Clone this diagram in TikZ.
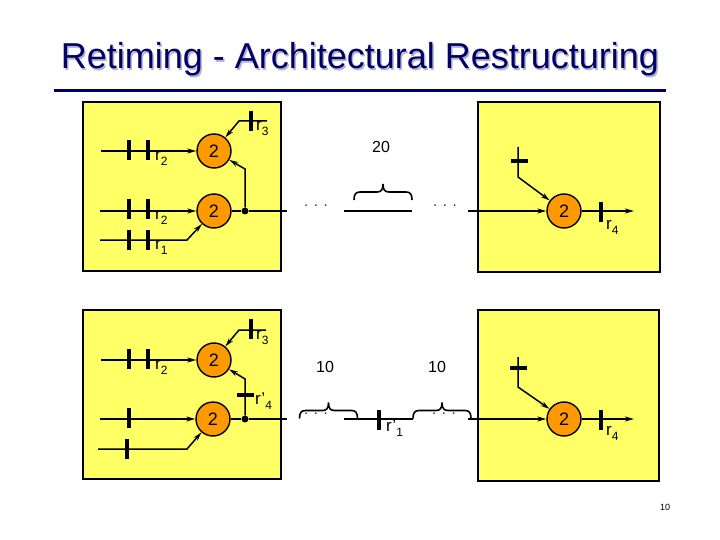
\documentclass[tikz,border=0pt]{standalone}
\usepackage{fontspec}
\setmainfont{Liberation Sans}
\usepackage{tikz}
\usetikzlibrary{arrows.meta,positioning}
\definecolor{navy}{HTML}{000066}
\definecolor{padyellow}{HTML}{FFFF66}
\definecolor{gateorange}{HTML}{FF9900}
\newcommand{\lowidx}[1]{\raisebox{-5pt}{\fontsize{12}{13}\selectfont #1}}

\begin{document}
\begin{tikzpicture}[
  x=1pt, y=-1pt,
  pad/.style={rectangle, draw=black, line width=1.8pt, fill=padyellow, anchor=north west, inner sep=0pt},
  gate/.style={circle, draw=black, line width=1.4pt, fill=gateorange, minimum size=34pt, inner sep=0pt, font=\fontsize{18}{20}\selectfont},
  vlatch/.style={rectangle, fill=black, minimum width=4pt, minimum height=20pt, inner sep=0pt},
  hlatch/.style={rectangle, fill=black, minimum width=17pt, minimum height=4pt, inner sep=0pt},
  junction/.style={circle, fill=black, minimum size=7pt, inner sep=0pt},
  reg/.style={anchor=west, inner sep=0pt, font=\fontsize{17}{18}\selectfont},
  weight/.style={inner sep=0pt, font=\fontsize{16}{18}\selectfont},
  gap/.style={inner sep=0pt, text=black!80, font=\fontsize{15}{16}\selectfont},
  wire/.style={line width=1.5pt},
  arr/.style={wire, -{Stealth[length=9pt,width=5pt]}},
  curly/.pic={\draw[line width=1.6pt] (-29,8) .. controls (-29,2) and (-27,0) .. (-23,0) -- (-6,0)
    .. controls (-2,0) and (0,-2) .. (0,-8) .. controls (0,-2) and (2,0) .. (6,0) -- (23,0)
    .. controls (27,0) and (29,2) .. (29,8);}
]
\useasboundingbox (0,0) rectangle (720,540);

% Title
\node[text=navy!30!white, inner sep=0pt, font=\fontsize{36}{38}\selectfont] (titleshade) at (361.5,61) {Retiming - Architectural Restructuring};
\node[text=navy, inner sep=0pt, font=\fontsize{36}{38}\selectfont] (title) at (360,59.5) {Retiming - Architectural Restructuring};
\coordinate (ruleL) at (54,90.5);
\coordinate (ruleR) at (666,90.5);
\draw[navy, line width=2.4pt] (ruleL) -- (ruleR);

% Yellow boxes
\node[pad, minimum width=198pt, minimum height=169pt] (padA) at (82,101) {};
\node[pad, minimum width=182pt, minimum height=170pt] (padB) at (477,101) {};
\node[pad, minimum width=198pt, minimum height=169pt] (padC) at (82,309) {};
\node[pad, minimum width=181pt, minimum height=171pt] (padD) at (477,309) {};

% Gates
\node[gate] (gA1) at (214,151) {2};
\node[gate] (gA2) at (214,211) {2};
\node[gate] (gB) at (564,211) {2};
\node[gate] (gC1) at (214,360) {2};
\node[gate] (gC2) at (213,419) {2};
\node[gate] (gD) at (564,419) {2};

% Top left wiring
\coordinate (inA1) at (101,151);
\coordinate (inA2) at (100,211);
\coordinate (inA3) at (100,240);
\coordinate (bendA3) at (187,240);
\coordinate (inA4) at (267,121);
\coordinate (bendA4) at (239,121);
\coordinate (bendA5) at (245,169);
\coordinate (cutA) at (287,211);
\node[junction] (jA) at (245,211) {};
\draw[arr] (inA1) -- (gA1);
\draw[arr] (inA2) -- (gA2);
\draw[arr] (inA3) -- (bendA3) -- (gA2);
\draw[arr] (inA4) -- (bendA4) -- (gA1);
\draw[arr] (jA) -- (bendA5) -- (gA1);
\draw[wire] (gA2) -- (jA) -- (cutA);
\node[vlatch] (lA1) at (129,150) {};
\node[vlatch] (lA2) at (148,150) {};
\node[vlatch] (lA3) at (129,209) {};
\node[vlatch] (lA4) at (148,209) {};
\node[vlatch] (lA5) at (129,240) {};
\node[vlatch] (lA6) at (148,240) {};
\node[vlatch] (lA7) at (251,121) {};
\node[reg] (rA1) at (155,158) {r\lowidx{2}};
\node[reg] (rA2) at (155,217) {r\lowidx{2}};
\node[reg] (rA3) at (155,247) {r\lowidx{1}};
\node[reg] (rA4) at (256,128) {r\lowidx{3}};

% Top middle
\node[gap] (dotsB1) at (316,206) {. . .};
\node[gap] (dotsB2) at (445,206) {. . .};
\coordinate (midB1) at (344,211);
\coordinate (midB2) at (412,211);
\draw[wire] (midB1) -- (midB2);
\pic at (383,192) {curly};
\node[weight] (wB) at (381,147) {20};

% Top right wiring
\coordinate (inB1) at (468,211);
\coordinate (inB2) at (518,147);
\coordinate (bendB2) at (518,177);
\coordinate (outB) at (634,211);
\draw[arr] (inB1) -- (gB);
\draw[arr] (inB2) -- (bendB2) -- (gB);
\draw[arr] (gB) -- (outB);
\node[hlatch] (lB1) at (519,161) {};
\node[vlatch] (lB2) at (601,212) {};
\node[reg] (rB) at (606,227) {r\lowidx{4}};

% Bottom left wiring
\coordinate (inC1) at (101,360);
\coordinate (inC2) at (100,419);
\coordinate (inC3) at (98,449);
\coordinate (bendC3) at (187,449);
\coordinate (inC4) at (266,330);
\coordinate (bendC4) at (239,330);
\coordinate (bendC5) at (245,379);
\coordinate (cutC) at (287,419);
\node[junction] (jC) at (245,419) {};
\draw[arr] (inC1) -- (gC1);
\draw[arr] (inC2) -- (gC2);
\draw[arr] (inC3) -- (bendC3) -- (gC2);
\draw[arr] (inC4) -- (bendC4) -- (gC1);
\draw[arr] (jC) -- (bendC5) -- (gC1);
\draw[wire] (gC2) -- (jC) -- (cutC);
\node[vlatch] (lC1) at (129,359) {};
\node[vlatch] (lC2) at (148,359) {};
\node[vlatch] (lC3) at (129,418) {};
\node[vlatch] (lC4) at (127,449) {};
\node[vlatch] (lC5) at (251,329) {};
\node[hlatch] (lC6) at (245,395) {};
\node[reg] (rC1) at (155,367) {r\lowidx{2}};
\node[reg] (rC2) at (256,337) {r\lowidx{3}};
\node[reg] (rC3) at (255,401) {r'\lowidx{4}};

% Bottom middle
\node[gap] (dotsD1) at (316,414) {. . .};
\node[gap] (dotsD2) at (444,414) {. . .};
\coordinate (midD1) at (344,419);
\coordinate (midD2) at (413,419);
\node[vlatch] (lD1) at (379,420) {};
\draw[wire] (midD1) -- (midD2);
\pic at (328.5,410.5) {curly};
\pic at (442,410.5) {curly};
\node[weight] (wD1) at (325,367) {10};
\node[weight] (wD2) at (437,367) {10};
\node[reg] (rD1) at (386,428) {r'\lowidx{1}};

% Bottom right wiring
\coordinate (inD1) at (468,419);
\coordinate (inD2) at (518,357);
\coordinate (bendD2) at (518,387);
\coordinate (outD) at (634,419);
\draw[arr] (inD1) -- (gD);
\draw[arr] (inD2) -- (bendD2) -- (gD);
\draw[arr] (gD) -- (outD);
\node[hlatch] (lD2) at (518.5,368) {};
\node[vlatch] (lD3) at (601,420) {};
\node[reg] (rD2) at (606,433) {r\lowidx{4}};

% Page number
\node[inner sep=0pt, font=\fontsize{9}{10}\selectfont] (page) at (665,507) {10};

\end{tikzpicture}
\end{document}
